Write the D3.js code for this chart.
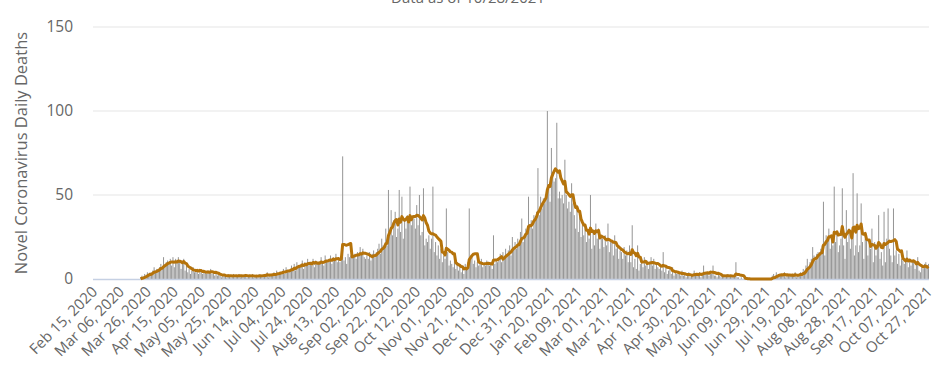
<!DOCTYPE html>
<html>
<head>
<meta charset="utf-8">
<script src="https://cdn.jsdelivr.net/npm/d3@7/dist/d3.min.js"></script>
<style>
  body { margin: 0; background: #fff; }
  svg text { font-family: "Open Sans", "Noto Sans", sans-serif; fill: #666666; }
</style>
</head>
<body>
<div id="chart"></div>
<script>
// first day of the series, one value per day after it
var startDate = "2020-02-15";
var titleText = "Data as of 10/28/2021";
var yLabel = "Novel Coronavirus Daily Deaths";
var yTicks = [0, 50, 100, 150];
var tickEvery = 20;
var avgWindow = 7;

// daily deaths, one row per week (Sat..Fri)
var dailyDeaths = [
    0, 0, 0, 0, 0, 0, 0,
    0, 0, 0, 0, 0, 0, 0,
    0, 0, 0, 0, 0, 0, 0,
    0, 0, 0, 0, 0, 0, 0,
    0, 0, 0, 0, 0, 0, 0,
    1, 2, 1, 3, 2, 4, 3,
    4, 3, 5, 7, 4, 6, 6,
    7, 9, 6, 13, 8, 10, 11,
    9, 12, 8, 13, 7, 12, 10,
    13, 11, 6, 9, 12, 5, 8,
    4, 6, 3, 5, 7, 4, 6,
    5, 3, 6, 4, 3, 5, 4,
    3, 5, 4, 6, 3, 4, 2,
    4, 2, 3, 2, 1, 3, 2,
    2, 1, 3, 2, 1, 2, 3,
    1, 2, 2, 3, 1, 2, 2,
    2, 3, 1, 2, 2, 1, 3,
    1, 2, 2, 1, 3, 2, 2,
    2, 3, 2, 4, 1, 3, 2,
    3, 4, 2, 5, 3, 4, 4,
    4, 6, 3, 7, 5, 4, 6,
    8, 6, 9, 5, 10, 7, 8,
    9, 11, 6, 10, 8, 12, 9,
    10, 8, 12, 7, 11, 9, 10,
    9, 13, 10, 8, 14, 11, 10,
    12, 14, 9, 13, 11, 15, 10,
    13, 10, 12, 73, 11, 13, 9,
    15, 13, 14, 17, 13, 15, 12,
    16, 14, 19, 15, 18, 13, 12,
    14, 12, 16, 11, 15, 17, 13,
    16, 18, 21, 15, 24, 20, 19,
    30, 20, 53, 28, 41, 26, 35,
    40, 25, 30, 53, 28, 49, 24,
    35, 30, 38, 33, 55, 32, 36,
    36, 30, 44, 32, 50, 26, 28,
    54, 20, 24, 22, 26, 18, 24,
    55, 16, 22, 14, 20, 12, 18,
    10, 14, 12, 42, 16, 8, 11,
    9, 7, 12, 6, 10, 5, 8,
    4, 6, 3, 9, 7, 10, 42,
    12, 14, 9, 11, 7, 10, 8,
    9, 12, 7, 10, 8, 11, 9,
    8, 10, 6, 26, 9, 11, 10,
    12, 15, 10, 16, 13, 18, 14,
    17, 20, 14, 25, 19, 22, 18,
    24, 21, 28, 36, 22, 26, 30,
    28, 49, 32, 35, 30, 38, 36,
    40, 66, 38, 49, 42, 48, 45,
    50, 100, 55, 46, 78, 62, 58,
    60, 93, 48, 52, 48, 50, 45,
    71, 50, 42, 46, 40, 57, 45,
    38, 30, 44, 28, 40, 25, 32,
    26, 30, 22, 28, 24, 50, 18,
    28, 20, 33, 24, 30, 18, 26,
    24, 19, 26, 20, 33, 16, 22,
    22, 14, 26, 18, 20, 12, 17,
    16, 12, 19, 14, 17, 10, 20,
    10, 32, 7, 12, 6, 20, 5,
    9, 12, 7, 13, 8, 11, 6,
    10, 13, 8, 12, 6, 9, 7,
    6, 8, 5, 16, 4, 7, 3,
    5, 6, 3, 7, 2, 4, 3,
    3, 4, 2, 5, 2, 3, 1,
    2, 4, 1, 3, 2, 5, 2,
    3, 2, 4, 1, 3, 8, 3,
    4, 3, 2, 5, 3, 8, 2,
    2, 1, 3, 2, 1, 3, 2,
    1, 2, 3, 1, 2, 2, 1,
    2, 10, 1, 1, 0, 1, 0,
    0, 0, 0, 0, 0, 0, 0,
    0, 0, 0, 0, 0, 0, 0,
    0, 0, 0, 0, 0, 0, 0,
    2, 3, 1, 4, 2, 3, 2,
    3, 2, 4, 1, 3, 2, 2,
    2, 3, 2, 4, 1, 2, 3,
    4, 3, 6, 5, 8, 12, 7,
    10, 12, 19, 14, 11, 15, 16,
    15, 18, 20, 46, 14, 26, 22,
    30, 18, 24, 20, 55, 22, 28,
    16, 20, 24, 54, 20, 12, 41,
    22, 30, 18, 28, 63, 14, 20,
    51, 16, 20, 45, 22, 12, 24,
    26, 14, 20, 18, 30, 10, 22,
    14, 20, 38, 12, 16, 8, 40,
    10, 24, 42, 18, 14, 10, 42,
    14, 17, 9, 15, 8, 12, 11,
    9, 11, 17, 7, 12, 8, 10,
    11, 6, 9, 13, 5, 4, 7,
    6, 9, 10, 8, 9
];

var width = 936, height = 374;
var margin = { top: 27, right: 7, bottom: 95, left: 93 };

var parseDate = d3.timeParse("%Y-%m-%d");
var fmt = d3.timeFormat("%b %d, %Y");
var day0 = parseDate(startDate);

var rows = dailyDeaths.map(function (v, i) {
    return { i: i, date: d3.timeDay.offset(day0, i), value: v };
});

// trailing 7 day average, starting from the first reported death
var firstIdx = dailyDeaths.findIndex(function (v) { return v > 0; });
rows.forEach(function (d) {
    var win = dailyDeaths.slice(Math.max(0, d.i - avgWindow + 1), d.i + 1);
    d.avg = d3.mean(win);
});

var svg = d3.select("#chart")
    .append("svg")
    .attr("width", width)
    .attr("height", height);

var x = d3.scaleBand()
    .domain(rows.map(function (d) { return d.i; }))
    .range([margin.left, width - margin.right])
    .paddingInner(0.25);

var y = d3.scaleLinear()
    .domain([0, 150])
    .range([height - margin.bottom, margin.top]);

// grid lines
svg.append("g")
    .selectAll("line")
    .data(yTicks.filter(function (t) { return t > 0; }))
    .enter()
    .append("line")
    .attr("x1", margin.left)
    .attr("x2", width - margin.right)
    .attr("y1", function (d) { return y(d); })
    .attr("y2", function (d) { return y(d); })
    .attr("stroke", "#e5e5e5")
    .attr("stroke-width", 1);

// y tick labels
svg.append("g")
    .selectAll("text")
    .data(yTicks)
    .enter()
    .append("text")
    .attr("x", 73)
    .attr("y", function (d) { return y(d); })
    .attr("dy", "0.35em")
    .attr("text-anchor", "end")
    .style("font-size", "15.5px")
    .text(function (d) { return d; });

// bars
svg.append("g")
    .selectAll("rect")
    .data(rows)
    .enter()
    .append("rect")
    .attr("x", function (d) { return x(d.i); })
    .attr("width", x.bandwidth())
    .attr("y", function (d) { return y(d.value); })
    .attr("height", function (d) { return y(0) - y(d.value); })
    .attr("fill", "#969696");

// baseline
svg.append("line")
    .attr("x1", margin.left)
    .attr("x2", width - margin.right)
    .attr("y1", y(0) + 0.5)
    .attr("y2", y(0) + 0.5)
    .attr("stroke", "#c5d0e3")
    .attr("stroke-width", 1.5);

// moving average line
var line = d3.line()
    .x(function (d) { return x(d.i) + x.bandwidth() / 2; })
    .y(function (d) { return y(d.avg); });

svg.append("path")
    .datum(rows.filter(function (d) { return d.i >= firstIdx; }))
    .attr("d", line)
    .attr("fill", "none")
    .attr("stroke", "#b5730b")
    .attr("stroke-width", 3)
    .attr("stroke-linejoin", "round");

// x tick labels, every 20 days
var tickRows = rows.filter(function (d) { return d.i % tickEvery === 0; });
svg.append("g")
    .selectAll("text")
    .data(tickRows)
    .enter()
    .append("text")
    .attr("transform", function (d) {
        var cx = x(d.i) + x.bandwidth() / 2 + 1;
        return "translate(" + cx + "," + (y(0) + 10) + ") rotate(-45)";
    })
    .attr("text-anchor", "end")
    .attr("dy", "0.35em")
    .style("font-size", "15px")
    .text(function (d) { return fmt(d.date); });

// y axis title
svg.append("text")
    .attr("transform", "translate(21," + ((margin.top + y(0)) / 2) + ") rotate(-90)")
    .attr("text-anchor", "middle")
    .attr("dy", "0.35em")
    .style("font-size", "16.5px")
    .text(yLabel);

// chart title, mostly cut off by the top edge
svg.append("text")
    .attr("x", width / 2)
    .attr("y", 3)
    .attr("text-anchor", "middle")
    .style("font-size", "15px")
    .text(titleText);
</script>
</body>
</html>
